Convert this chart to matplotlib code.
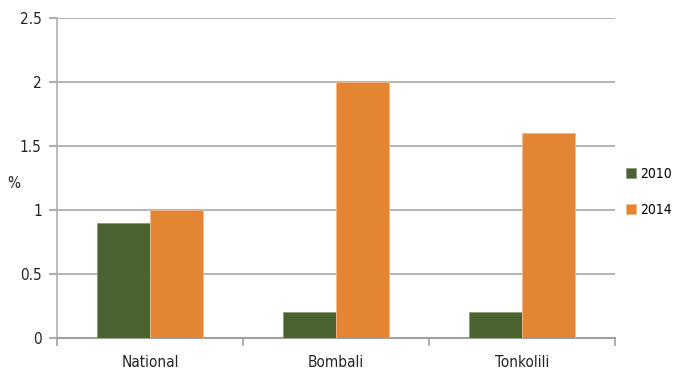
import numpy as np
import matplotlib.pyplot as plt

# data
regions = ['National', 'Bombali', 'Tonkolili']
years = ['2010', '2014']
v2010 = [0.9, 0.2, 0.2]
v2014 = [1.0, 2.0, 1.6]

plt.rcParams['font.family'] = ['DejaVu Sans']
plt.rcParams['font.stretch'] = 'condensed'

fig = plt.figure(figsize=(6.74, 3.73), dpi=100)
ax = fig.add_axes([57/674, 35/373, 558/674, 320/373])

x = np.arange(len(regions))
w = 0.285
ax.bar(x - w/2, v2010, w, color='#4a6330', edgecolor='#8a9a78', linewidth=0.6, label=years[0], zorder=3)
ax.bar(x + w/2, v2014, w, color='#e38533', edgecolor='#f2b98a', linewidth=0.6, label=years[1], zorder=3)

ax.set_xlim(-0.5, 2.5)
ax.set_ylim(0, 2.5)
ax.set_yticks(np.arange(0, 2.51, 0.5))
ax.set_yticklabels(['0', '0.5', '1', '1.5', '2', '2.5'])
ax.set_xticks(x)
ax.set_xticklabels(regions)
ax.set_xticks([-0.5, 0.5, 1.5, 2.5], minor=True)
ax.tick_params(axis='x', which='major', length=0, pad=12, labelsize=11, labelcolor='#222222')
ax.tick_params(axis='x', which='minor', length=6, color='#a0a0a0', width=1.2, direction='out')
ax.tick_params(axis='y', length=6, color='#a0a0a0', width=1.2, labelsize=11, labelcolor='#222222', pad=5)
ax.grid(axis='y', color='#a8a8a8', linewidth=1.2, zorder=0)

for s in ['top', 'right']:
    ax.spines[s].set_visible(False)
ax.spines['left'].set_color('#b0b0b0')
ax.spines['bottom'].set_color('#a0a0a0')
ax.spines['left'].set_linewidth(1.2)
ax.spines['bottom'].set_linewidth(1.5)

fig.text(14/674, 1 - 183/373, '%', fontsize=11, color='#222222', va='center', ha='center')

ax.legend(loc='center left', bbox_to_anchor=(626/674, 1 - 192/373), bbox_transform=fig.transFigure,
          frameon=False, fontsize=10, handlelength=0.7, handleheight=0.7, handletextpad=0.3,
          labelspacing=1.6, borderaxespad=0, borderpad=0)

fig.savefig('out.png', dpi=100)
